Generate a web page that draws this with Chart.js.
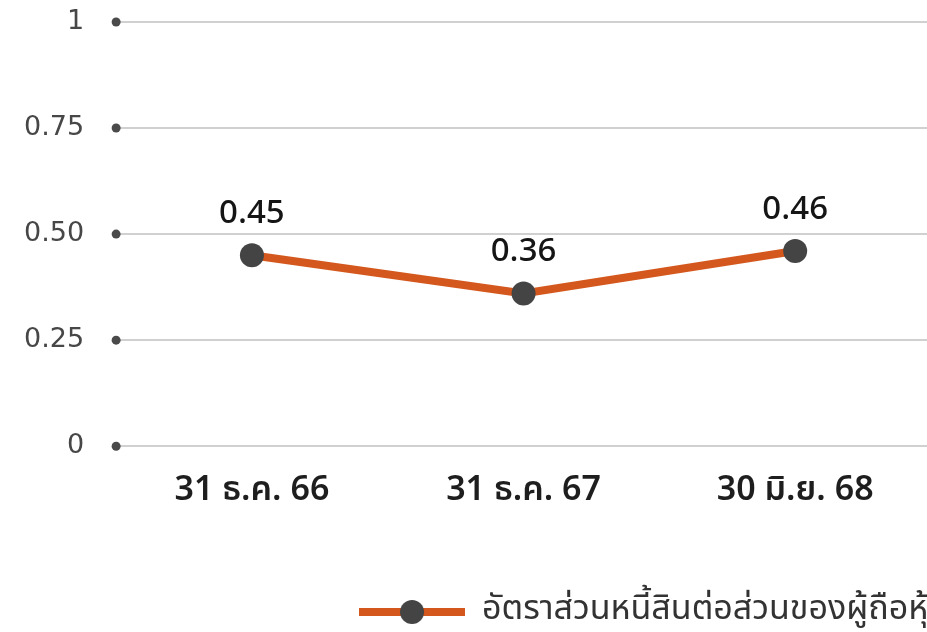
<!DOCTYPE html>
<html lang="th">
<head>
<meta charset="utf-8">
<title>อัตราส่วนหนี้สินต่อส่วนของผู้ถือหุ้น</title>
<script src="https://cdn.jsdelivr.net/npm/chart.js@4.4.1/dist/chart.umd.min.js"></script>
<style>
  html, body { margin: 0; padding: 0; background: #ffffff; overflow: hidden; }
  canvas { display: block; }
</style>
</head>
<body>
<canvas id="chart" width="1003" height="639"></canvas>
<script>
// Reporting dates (Thai Buddhist-era short form)
const periods = ['31 ธ.ค. 66', '31 ธ.ค. 67', '30 มิ.ย. 68'];
// Debt-to-equity ratio (times)
const deRatio = [0.45, 0.36, 0.46];
// Y-axis tick values and their printed labels
const yTickValues = [0, 0.25, 0.5, 0.75, 1];
const yTickLabels = ['0', '0.25', '0.50', '0.75', '1'];
const seriesName = 'อัตราส่วนหนี้สินต่อส่วนของผู้ถือหุ้น';

const LINE_COLOR = '#d4581d';
const POINT_COLOR = '#444444';
const THAI_FONT = '"Noto Sans Thai", "Noto Sans Thai UI", Loma, Garuda, "Tlwg Typo", "Noto Sans", sans-serif';

// Legend swatch: thick orange stroke with the dark marker in the middle
function makeLegendSwatch() {
  const c = document.createElement('canvas');
  c.width = 106; c.height = 28;
  const g = c.getContext('2d');
  g.fillStyle = LINE_COLOR;
  g.fillRect(0, 10, 106, 8);
  g.fillStyle = POINT_COLOR;
  g.beginPath();
  g.arc(53, 14, 12, 0, Math.PI * 2);
  g.fill();
  return c;
}
const legendSwatch = makeLegendSwatch();

// Small dots where each horizontal grid line begins
const tickDots = {
  id: 'tickDots',
  beforeDatasetsDraw(chart) {
    const y = chart.scales.y;
    const ctx = chart.ctx;
    ctx.save();
    ctx.fillStyle = '#4a4a4a';
    y.ticks.forEach((t) => {
      const py = y.getPixelForValue(t.value);
      ctx.beginPath();
      ctx.arc(chart.chartArea.left, py, 4.5, 0, Math.PI * 2);
      ctx.fill();
    });
    ctx.restore();
  }
};

// Value labels above each point
const valueLabels = {
  id: 'valueLabels',
  afterDatasetsDraw(chart) {
    const meta = chart.getDatasetMeta(0);
    const data = chart.data.datasets[0].data;
    const ctx = chart.ctx;
    ctx.save();
    ctx.fillStyle = '#151515';
    ctx.font = '500 33px ' + THAI_FONT;
    ctx.textAlign = 'center';
    ctx.textBaseline = 'middle';
    meta.data.forEach((pt, i) => {
      ctx.fillText(data[i].toFixed(2), pt.x, pt.y - 39);
    });
    ctx.restore();
  }
};

new Chart(document.getElementById('chart'), {
  type: 'line',
  data: {
    labels: periods,
    datasets: [{
      label: seriesName,
      data: deRatio,
      borderColor: LINE_COLOR,
      backgroundColor: POINT_COLOR,
      borderWidth: 8,
      tension: 0,
      pointStyle: 'circle',
      pointRadius: 12,
      pointHoverRadius: 12,
      pointBackgroundColor: POINT_COLOR,
      pointBorderColor: POINT_COLOR,
      pointBorderWidth: 0
    }]
  },
  options: {
    responsive: false,
    animation: false,
    layout: { autoPadding: false, padding: { top: 22, right: 0, left: 19, bottom: 0 } },
    scales: {
      x: {
        offset: true,
        grid: { display: false, drawTicks: false },
        border: { display: false },
        ticks: {
          color: '#1e1e1e',
          font: { family: THAI_FONT, size: 34, weight: '600' },
          padding: 27
        }
      },
      y: {
        min: 0,
        max: 1,
        afterBuildTicks(scale) {
          scale.ticks = yTickValues.map((v) => ({ value: v }));
        },
        grid: { color: '#d0d0d0', lineWidth: 2, drawTicks: true, tickLength: 27, tickColor: 'rgba(0,0,0,0)' },
        border: { display: false },
        ticks: {
          color: '#474747',
          font: { family: '"DejaVu Sans", sans-serif', size: 27 },
          padding: 5,
          callback(value) {
            const i = yTickValues.indexOf(value);
            return i >= 0 ? yTickLabels[i] : '';
          }
        }
      },
      // empty right-hand gutter so the plot stops short of the legend's right edge
      gutter: {
        type: 'linear',
        position: 'right',
        display: true,
        grid: { display: false, drawTicks: false },
        border: { display: false },
        ticks: { display: false },
        afterFit(scale) { scale.width = 72; }
      }
    },
    plugins: {
      tooltip: { enabled: false },
      legend: {
        position: 'bottom',
        align: 'end',
        labels: {
          usePointStyle: true,
          pointStyleWidth: 106,
          boxHeight: 28,
          padding: 54,
          color: '#333333',
          font: { family: THAI_FONT, size: 34 },
          generateLabels(chart) {
            const items = Chart.defaults.plugins.legend.labels.generateLabels(chart);
            items.forEach((it) => { it.pointStyle = legendSwatch; });
            return items;
          }
        }
      }
    }
  },
  plugins: [tickDots, valueLabels]
});
</script>
</body>
</html>
